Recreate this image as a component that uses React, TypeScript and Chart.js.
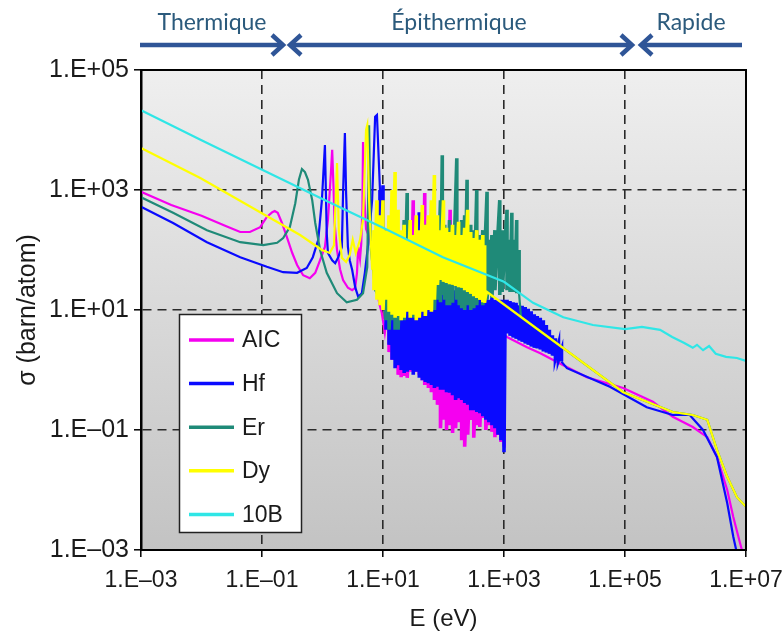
import React, { useEffect, useRef } from 'react';
import { Chart, registerables } from 'chart.js';

Chart.register(...registerables);

// ---------- labels ----------
const seriesNames = ['AIC', 'Hf', 'Er', 'Dy', '10B'];
const seriesColors = ['#f500f0', '#0a0aff', '#1f8a78', '#ffff00', '#2fe6e6'];
const xTickExponents = [-3, -1, 1, 3, 5, 7];
const yTickExponents = [-3, -1, 1, 3, 5];
const regionLabels = ['Thermique', 'Épithermique', 'Rapide'];

// ---------- data: [log10(E / eV), log10(sigma / barn)] ----------
// dense resonance regions: [log10 E, log10 sigma high, log10 sigma low]

const aicHead: [number, number][] = [
  [-3.0, 2.97], [-2.5, 2.75], [-2.0, 2.57], [-1.6, 2.4], [-1.36, 2.3], [-1.2, 2.3], [-1.03, 2.38],
  [-0.92, 2.55], [-0.83, 2.63], [-0.79, 2.65], [-0.74, 2.62], [-0.67, 2.45], [-0.59, 2.22],
  [-0.5, 1.95], [-0.42, 1.75], [-0.32, 1.58], [-0.21, 1.53], [-0.12, 1.62], [-0.04, 1.83],
  [0.04, 2.05], [0.09, 2.5], [0.14, 3.3], [0.16, 3.67], [0.18, 3.1], [0.2, 2.45], [0.24, 2.0],
  [0.29, 1.68], [0.34, 1.5], [0.42, 1.37], [0.49, 1.33], [0.54, 1.37], [0.57, 1.62], [0.59, 2.05],
  [0.62, 1.85], [0.64, 2.1], [0.66, 2.7], [0.67, 3.8], [0.69, 2.9], [0.72, 2.35], [0.79, 2.17],
  [0.86, 1.6], [0.94, 1.1], [0.98, 0.95], [1.03, 0.62],
];
const aicBand: [number, number, number][] = [
  [1.1, 1.17, 0.3], [1.15, 0.83, 0.17], [1.2, 1.33, 0.2], [1.25, 1.0, -0.08], [1.3, 0.67, -0.12],
  [1.35, 1.17, -0.1], [1.4, 0.92, -0.13], [1.45, 0.83, -0.03], [1.5, 2.83, 0.03], [1.55, 0.67, -0.03],
  [1.6, 1.0, -0.08], [1.65, 0.83, -0.17], [1.69, 2.95, -0.25], [1.75, 0.67, -0.3], [1.8, 0.83, -0.37],
  [1.85, 0.5, -0.5], [1.9, 0.67, -0.58], [1.95, 0.58, -0.97], [2.0, 0.5, -0.83], [2.05, 0.67, -1.0],
  [2.11, 2.67, -0.92], [2.15, 0.5, -1.05], [2.2, 0.42, -0.97], [2.25, 0.5, -0.87], [2.3, 0.33, -1.17],
  [2.35, 0.42, -1.28], [2.4, 0.33, -1.08], [2.45, 0.25, -0.83], [2.5, 0.33, -1.13], [2.55, 0.17, -0.92],
  [2.6, 0.25, -0.95], [2.65, 0.17, -0.8], [2.7, 0.17, -1.0], [2.75, 0.08, -0.92], [2.8, 0.17, -1.03],
  [2.85, 0.08, -1.12], [2.9, 0.0, -1.08], [2.95, -0.03, -1.2], [3.0, -0.17, -1.28],
];
const aicTail: [number, number][] = [
  [3.01, 0.58], [3.05, 0.55], [3.38, 0.38], [3.6, 0.28], [3.98, 0.08], [4.37, -0.12], [4.97, -0.3],
  [5.46, -0.53], [5.79, -0.78], [6.12, -0.95], [6.36, -1.12], [6.52, -1.45], [6.69, -2.0],
  [6.79, -2.45], [6.9, -2.88], [6.96, -3.1],
];

const hfHead: [number, number][] = [
  [-3.0, 2.72], [-2.47, 2.45], [-1.91, 2.13], [-1.36, 1.88], [-0.92, 1.72], [-0.65, 1.63],
  [-0.42, 1.62], [-0.26, 1.7], [-0.16, 1.88], [-0.07, 2.17], [-0.01, 2.83], [0.04, 3.75],
  [0.07, 2.28], [0.09, 1.95], [0.16, 1.83], [0.21, 1.78], [0.26, 1.88], [0.32, 2.05], [0.34, 2.95],
  [0.37, 3.95], [0.39, 2.95], [0.42, 2.05], [0.45, 1.83], [0.49, 1.67], [0.54, 1.38], [0.59, 1.22],
  [0.65, 1.28], [0.7, 1.62], [0.75, 2.05], [0.82, 2.83], [0.87, 4.22], [0.9, 4.25], [0.93, 3.5],
];
const hfBand: [number, number, number][] = [
  [0.95, 3.0, 1.83], [1.0, 3.08, 1.33], [1.05, 2.33, 0.67], [1.1, 2.0, 0.42], [1.15, 1.33, 0.17],
  [1.2, 1.67, 0.03], [1.25, 1.17, 0.08], [1.3, 1.33, 0.0], [1.35, 1.17, -0.05], [1.4, 1.83, -0.03],
  [1.45, 1.25, 0.0], [1.5, 1.17, -0.08], [1.55, 2.17, -0.03], [1.6, 2.63, -0.13], [1.65, 1.33, -0.17],
  [1.7, 1.17, -0.2], [1.75, 1.42, -0.22], [1.8, 1.25, -0.25], [1.85, 1.37, -0.3], [1.9, 1.33, -0.28],
  [1.95, 1.42, -0.33], [2.0, 1.37, -0.33], [2.05, 1.33, -0.37], [2.1, 1.38, -0.38], [2.15, 1.3, -0.42],
  [2.2, 1.33, -0.5], [2.25, 1.28, -0.47], [2.3, 1.33, -0.5], [2.35, 1.25, -0.55], [2.4, 1.3, -0.58],
  [2.45, 1.23, -0.67], [2.5, 1.27, -0.67], [2.55, 1.23, -0.7], [2.6, 1.2, -0.72], [2.65, 2.08, -0.77],
  [2.7, 1.2, -0.83], [2.75, 1.17, -0.87], [2.8, 1.2, -0.92], [2.85, 1.17, -0.97], [2.9, 1.17, -1.08],
  [2.95, 1.17, -1.17], [3.0, 1.17, -1.37],
  [3.02, 1.17, 0.61], [3.05, 1.17, 0.61], [3.1, 1.15, 0.57], [3.15, 1.13, 0.54], [3.2, 1.12, 0.52],
  [3.25, 1.08, 0.49], [3.3, 1.07, 0.47], [3.35, 1.05, 0.44], [3.4, 1.02, 0.42], [3.45, 0.98, 0.39],
  [3.5, 0.93, 0.37], [3.55, 0.9, 0.36], [3.6, 0.87, 0.34], [3.65, 0.83, 0.31], [3.7, 0.75, 0.29],
  [3.75, 0.67, 0.27], [3.8, 0.58, 0.24], [3.85, 0.53, 0.21], [3.9, 0.42, 0.17], [3.95, 0.33, 0.14],
];
const hfTail: [number, number][] = [
  [4.04, 0.03], [4.75, -0.28], [5.36, -0.62], [5.79, -0.75], [6.07, -0.75], [6.29, -1.0],
  [6.52, -1.45], [6.69, -2.22], [6.79, -2.78], [6.86, -3.1],
];

const erHead: [number, number][] = [
  [-3.0, 2.88], [-2.47, 2.62], [-1.91, 2.33], [-1.36, 2.13], [-0.98, 2.08], [-0.75, 2.12],
  [-0.65, 2.2], [-0.54, 2.38], [-0.45, 2.78], [-0.39, 3.17], [-0.34, 3.35], [-0.29, 3.3],
  [-0.24, 3.17], [-0.17, 2.83], [-0.12, 2.45], [-0.04, 2.0], [0.07, 1.62], [0.24, 1.28], [0.4, 1.13],
  [0.57, 1.17], [0.67, 1.28], [0.74, 1.72], [0.77, 4.08], [0.8, 2.0], [0.87, 1.33], [0.95, 1.17],
  [1.0, 1.5],
];
const erBand: [number, number, number][] = [
  [1.05, 2.17, 0.83], [1.1, 1.83, 0.67], [1.15, 2.0, 0.83], [1.2, 1.67, 0.67], [1.25, 2.17, 0.67],
  [1.3, 2.0, 0.83], [1.35, 2.5, 0.83], [1.4, 2.95, 1.0], [1.45, 2.33, 0.92], [1.5, 2.08, 0.87],
  [1.55, 2.25, 1.0], [1.6, 2.0, 0.92], [1.65, 2.17, 1.08], [1.7, 2.42, 0.97], [1.75, 2.08, 1.03],
  [1.8, 2.33, 1.08], [1.85, 2.17, 1.0], [1.9, 2.5, 1.17], [1.95, 2.83, 1.13], [1.98, 3.58, 1.25],
  [2.02, 2.42, 1.17], [2.06, 2.25, 1.08], [2.1, 2.5, 1.08], [2.15, 2.33, 1.12], [2.22, 3.53, 1.17],
  [2.26, 2.42, 1.08], [2.3, 2.5, 1.03], [2.35, 2.58, 1.0], [2.39, 3.17, 1.08], [2.45, 2.42, 1.0],
  [2.5, 2.33, 1.03], [2.55, 3.0, 1.08], [2.6, 2.25, 1.17], [2.65, 2.33, 1.08], [2.72, 2.97, 1.17],
  [2.76, 2.17, 1.25], [2.8, 2.25, 1.2], [2.85, 2.33, 1.33], [2.93, 2.83, 1.25], [2.97, 2.33, 1.3],
  [3.05, 2.67, 1.33], [3.1, 2.17, 1.3], [3.13, 2.62, 1.3], [3.18, 2.17, 1.3], [3.21, 2.5, 1.28],
  [3.25, 2.0, 1.27],
];
const erTail: [number, number][] = [
  [3.28, 0.88], [4.97, -0.37], [5.79, -0.7], [6.12, -0.75], [6.36, -0.83], [6.52, -1.33],
  [6.69, -1.78], [6.85, -2.12], [7.0, -2.28],
];

const dyHead: [number, number][] = [
  [-3.0, 3.7], [-2.02, 3.2], [-0.98, 2.6], [-0.37, 2.25], [-0.01, 2.0], [0.12, 1.95], [0.19, 2.08],
  [0.24, 3.45], [0.27, 2.33], [0.32, 1.87], [0.39, 1.8], [0.45, 1.92], [0.5, 2.17], [0.55, 1.95],
  [0.62, 2.17], [0.67, 2.5], [0.72, 4.0], [0.74, 4.08], [0.77, 2.83], [0.82, 1.67],
];
const dyBand: [number, number, number][] = [
  [0.85, 2.33, 1.33], [0.9, 2.83, 1.17], [0.95, 2.58, 1.08], [1.0, 2.83, 1.0], [1.05, 2.33, 1.17],
  [1.1, 2.58, 0.97], [1.15, 3.0, 0.92], [1.2, 3.3, 0.87], [1.25, 2.67, 0.9], [1.3, 2.33, 0.83],
  [1.35, 2.42, 0.87], [1.4, 2.17, 0.97], [1.45, 2.5, 0.87], [1.5, 2.25, 0.92], [1.55, 2.58, 0.83],
  [1.6, 2.33, 0.87], [1.65, 2.75, 0.97], [1.7, 2.42, 0.9], [1.75, 2.58, 1.0], [1.8, 2.83, 0.97],
  [1.85, 3.25, 1.17], [1.9, 2.58, 1.42], [1.95, 2.33, 1.5], [2.0, 2.83, 1.47], [2.05, 2.37, 1.45],
  [2.1, 2.3, 1.43], [2.15, 2.42, 1.42], [2.2, 2.25, 1.4], [2.25, 2.47, 1.38], [2.3, 2.25, 1.37],
  [2.35, 2.37, 1.33], [2.4, 2.67, 1.3], [2.45, 2.3, 1.27], [2.5, 2.2, 1.23], [2.55, 2.33, 1.2],
  [2.6, 2.17, 1.17], [2.65, 2.25, 1.13], [2.68, 2.08, 1.12],
];
const dyTail: [number, number][] = [
  [2.72, 1.3], [4.97, -0.37], [5.79, -0.7], [6.12, -0.75], [6.36, -0.83], [6.52, -1.33],
  [6.69, -1.78], [6.85, -2.12], [7.0, -2.28],
];

const b10Curve: [number, number][] = [
  [-3.0, 4.33], [-2.0, 3.83], [-0.98, 3.33], [0.0, 2.85], [1.0, 2.37], [1.99, 1.88], [3.0, 1.47],
  [3.48, 1.12], [3.98, 0.88], [4.47, 0.75], [5.0, 0.68], [5.28, 0.72], [5.58, 0.67], [5.78, 0.55],
  [5.98, 0.45], [6.12, 0.37], [6.19, 0.42], [6.29, 0.33], [6.39, 0.4], [6.5, 0.27], [6.67, 0.22],
  [6.85, 0.2], [7.0, 0.15],
];

// ---------- helpers ----------
type P = { x: number; y: number };
type Series = { pts: P[]; bandStart: number; bandEnd: number };

function buildSeries(head: [number, number][], band: [number, number, number][] = [], tail: [number, number][] = []): Series {
  const pts: P[] = [];
  head.forEach(([e, s]) => pts.push({ x: 10 ** e, y: 10 ** s }));
  const bandStart = pts.length;
  band.forEach(([e, hi, lo]) => {
    pts.push({ x: 10 ** e, y: 10 ** hi });
    pts.push({ x: 10 ** e, y: 10 ** lo });
  });
  const bandEnd = pts.length - 1;
  tail.forEach(([e, s]) => pts.push({ x: 10 ** e, y: 10 ** s }));
  return { pts, bandStart, bandEnd };
}

function fmtTick(v: number | string): string {
  const e = Math.round(Math.log10(Number(v)));
  const sign = e < 0 ? '\u2013' : '+';
  return '1.E' + sign + String(Math.abs(e)).padStart(2, '0');
}

const SANS = '"Liberation Sans", Arial, sans-serif';

const backgroundPlugin = {
  id: 'plotBackground',
  beforeDraw(chart: any) {
    const { ctx, chartArea: a } = chart;
    const g = ctx.createLinearGradient(a.left, a.top, a.left, a.bottom);
    g.addColorStop(0, '#efefef');
    g.addColorStop(1, '#c3c3c3');
    ctx.save();
    ctx.fillStyle = g;
    ctx.fillRect(a.left, a.top, a.right - a.left, a.bottom - a.top);
    ctx.restore();
  },
};

const overlayPlugin = {
  id: 'overlay',
  afterDraw(chart: any) {
    const { ctx, chartArea: a } = chart;
    ctx.save();
    // frame
    ctx.strokeStyle = '#000';
    ctx.lineWidth = 2;
    ctx.setLineDash([]);
    ctx.strokeRect(a.left, a.top, a.right - a.left, a.bottom - a.top);

    // legend box
    const bx = 179.5, by = 314.5, bw = 122, bh = 218;
    ctx.fillStyle = '#ffffff';
    ctx.fillRect(bx, by, bw, bh);
    ctx.strokeStyle = '#222';
    ctx.lineWidth = 1.5;
    ctx.strokeRect(bx, by, bw, bh);
    ctx.font = '23px ' + SANS;
    ctx.textBaseline = 'middle';
    ctx.textAlign = 'left';
    seriesNames.forEach((name, i) => {
      const yy = 340 + i * 43.6;
      ctx.strokeStyle = seriesColors[i];
      ctx.lineWidth = 3.5;
      ctx.beginPath();
      ctx.moveTo(189, yy);
      ctx.lineTo(234, yy);
      ctx.stroke();
      ctx.fillStyle = '#1a1a1a';
      ctx.fillText(name, 242, yy + 1);
    });

    // energy region arrows
    const ay = 45;
    ctx.strokeStyle = '#2f5597';
    ctx.lineWidth = 4.5;
    ctx.lineJoin = 'miter';
    const seg = (x1: number, x2: number) => {
      ctx.beginPath();
      ctx.moveTo(x1, ay);
      ctx.lineTo(x2, ay);
      ctx.stroke();
    };
    const head = (tip: number, dir: number) => {
      ctx.beginPath();
      ctx.moveTo(tip - dir * 11, ay - 10);
      ctx.lineTo(tip, ay);
      ctx.lineTo(tip - dir * 11, ay + 10);
      ctx.stroke();
    };
    seg(140, 281); head(283, 1);
    seg(292, 630); head(290, -1); head(632, 1);
    seg(643, 742); head(641, -1);

    ctx.fillStyle = '#2b5a7c';
    ctx.font = '23px Lato, "Open Sans", sans-serif';
    ctx.textAlign = 'center';
    ctx.textBaseline = 'alphabetic';
    ctx.fillText(regionLabels[0], 212, 30);
    ctx.fillText(regionLabels[1], 459, 30);
    ctx.fillText(regionLabels[2], 691, 30);
    ctx.restore();
  },
};

export default function App() {
  const canvasRef = useRef<HTMLCanvasElement | null>(null);

  useEffect(() => {
    const canvas = canvasRef.current;
    if (!canvas) return;
    const lineDs = (i: number, s: Series, order: number) => ({
      label: seriesNames[i],
      data: s.pts,
      borderColor: seriesColors[i],
      backgroundColor: seriesColors[i],
      borderWidth: 2.2,
      pointRadius: 0,
      tension: 0,
      fill: false,
      order,
      segment: {
        borderWidth: (c: any) =>
          c.p0DataIndex >= s.bandStart && c.p1DataIndex <= s.bandEnd ? 3.6 : 2.2,
      },
    });

    const chart = new Chart(canvas, {
      type: 'line',
      data: {
        datasets: [
          lineDs(0, buildSeries(aicHead, aicBand, aicTail), 4),
          lineDs(1, buildSeries(hfHead, hfBand, hfTail), 3),
          lineDs(2, buildSeries(erHead, erBand, erTail), 2),
          lineDs(3, buildSeries(dyHead, dyBand, dyTail), 1),
          lineDs(4, buildSeries(b10Curve), 0),
        ],
      },
      options: {
        responsive: false,
        animation: false,
        events: [],
        layout: { padding: { top: 70, right: 36, left: 0, bottom: 0 } },
        plugins: { legend: { display: false }, tooltip: { enabled: false } },
        scales: {
          x: {
            type: 'logarithmic',
            min: 1e-3,
            max: 1e7,
            afterBuildTicks: (s: any) => {
              s.ticks = xTickExponents.map((e) => ({ value: 10 ** e }));
            },
            afterFit: (s: any) => {
              s.height = 84;
              s.paddingLeft = 0;
              s.paddingRight = 0;
            },
            ticks: {
              callback: (v: any) => fmtTick(v),
              font: { family: SANS, size: 23 },
              color: '#1a1a1a',
              maxRotation: 0,
              autoSkip: false,
              padding: 10,
            },
            grid: { color: '#2a2a2a', lineWidth: 1.6, tickLength: 7, tickColor: '#000', tickWidth: 1.5 },
            border: { color: '#000', width: 2, dash: [9, 6] },
            title: {
              display: true,
              text: 'E (eV)',
              color: '#1a1a1a',
              font: { family: SANS, size: 24 },
              padding: { top: 0, bottom: 0 },
            },
          },
          y: {
            type: 'logarithmic',
            min: 1e-3,
            max: 1e5,
            afterBuildTicks: (s: any) => {
              s.ticks = yTickExponents.map((e) => ({ value: 10 ** e }));
            },
            afterFit: (s: any) => {
              s.width = 141;
              s.paddingTop = 0;
              s.paddingBottom = 0;
            },
            ticks: {
              callback: (v: any) => fmtTick(v),
              font: { family: SANS, size: 25 },
              color: '#1a1a1a',
              autoSkip: false,
              padding: 5,
            },
            grid: { color: '#2a2a2a', lineWidth: 1.6, tickLength: 7, tickColor: '#000', tickWidth: 1.5 },
            border: { color: '#000', width: 2.5, dash: [9, 6] },
            title: {
              display: true,
              text: 'σ (barn/atom)',
              color: '#1a1a1a',
              font: { family: SANS, size: 25 },
              padding: { top: 13, bottom: 0 },
            },
          },
        },
      },
      plugins: [backgroundPlugin, overlayPlugin],
    } as any);

    return () => chart.destroy();
  }, []);

  return (
    <div style={{ position: 'absolute', left: 0, top: 0, width: 782, height: 634, background: '#fff' }}>
      <canvas ref={canvasRef} width={782} height={634} style={{ display: 'block' }} />
    </div>
  );
}
